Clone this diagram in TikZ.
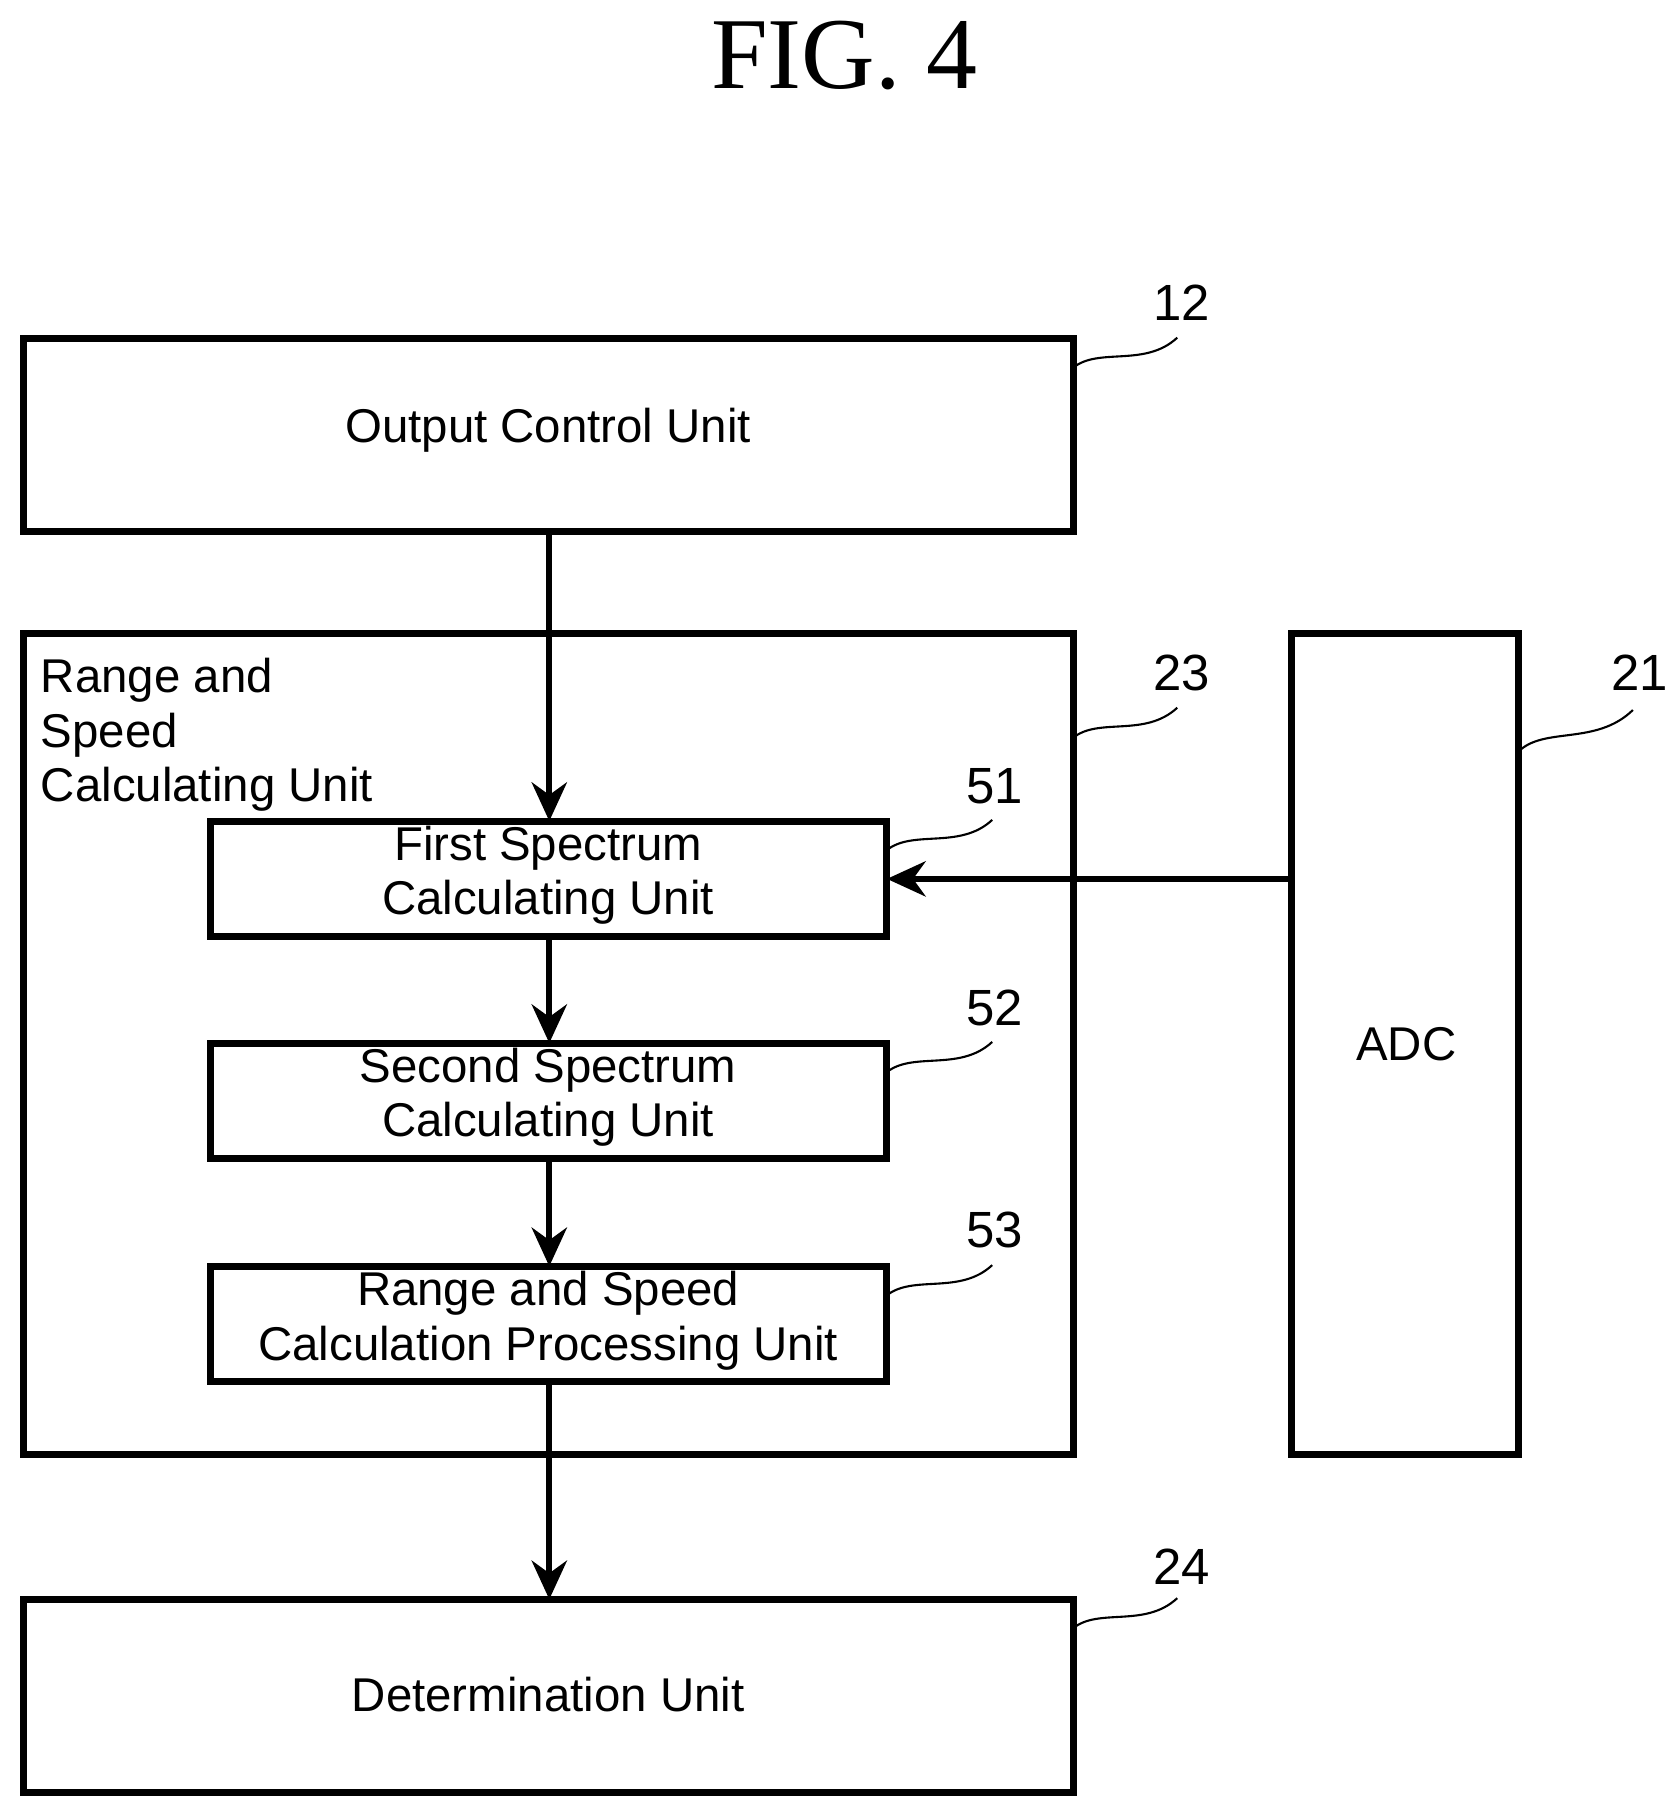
\documentclass[tikz,border=0pt]{standalone}
\usepackage{fontspec}
\setmainfont{Liberation Sans}
\newfontfamily\titlefont{Liberation Serif}
\usetikzlibrary{arrows.meta}
\begin{document}
\begin{tikzpicture}[x=0.02314cm,y=-0.02314cm,
  box/.style={draw,line width=4pt,inner sep=0},
  lbl/.style={font=\fontsize{27}{31}\selectfont},
  num/.style={font=\fontsize{29}{33}\selectfont},
  arr/.style={line width=3.5pt,-{Stealth[length=22pt,width=20pt]}},
  lead/.style={line width=1.2pt}]
\useasboundingbox (0,0) rectangle (1443,1560);
\node[font=\titlefont\fontsize{58}{64}\selectfont] (title) at (730,48) {FIG. 4};
% boxes
\draw[box] (20,293) rectangle (928,460);
\node[lbl] (oc) at (474,372) {Output Control Unit};
\draw[box] (20,548) rectangle (928,1258);
\node[lbl,align=left,anchor=north west] (rs) at (30,564) {Range and\\Speed\\Calculating Unit};
\draw[box] (1117,548) rectangle (1313,1258);
\node[lbl] (adc) at (1216,903) {ADC};
\draw[box] (182,710) rectangle (767,810);
\node[lbl,align=center] (b51) at (474,757) {First Spectrum\\Calculating Unit};
\draw[box] (182,902) rectangle (767,1002);
\node[lbl,align=center] (b52) at (474,949) {Second Spectrum\\Calculating Unit};
\draw[box] (182,1095) rectangle (767,1195);
\node[lbl,align=center] (b53) at (474,1142) {Range and Speed\\Calculation Processing Unit};
\draw[box] (20,1383) rectangle (928,1550);
\node[lbl] (det) at (474,1465) {Determination Unit};
% coordinates
\coordinate (a0) at (475,460); \coordinate (a1) at (475,710);
\coordinate (a2) at (475,810); \coordinate (a3) at (475,902);
\coordinate (a4) at (475,1002); \coordinate (a5) at (475,1095);
\coordinate (a6) at (475,1195); \coordinate (a7) at (475,1383);
\coordinate (c0) at (1117,760); \coordinate (c1) at (767,760);
\draw[arr] (a0) -- (a1);
\draw[arr] (a2) -- (a3);
\draw[arr] (a4) -- (a5);
\draw[arr] (a6) -- (a7);
\draw[arr] (c0) -- (c1);
% reference numerals
\node[num] (n12) at (1022,262) {12};
\node[num] (n23) at (1022,582) {23};
\node[num] (n21) at (1418,582) {21};
\node[num] (n51) at (860,680) {51};
\node[num] (n52) at (860,872) {52};
\node[num] (n53) at (860,1064) {53};
\node[num] (n24) at (1022,1355) {24};
\draw[lead] (928,318) .. controls (950,300) and (990,318) .. (1018,292);
\draw[lead] (928,638) .. controls (950,620) and (990,638) .. (1018,612);
\draw[lead] (1313,650) .. controls (1335,628) and (1380,645) .. (1412,614);
\draw[lead] (767,735) .. controls (790,717) and (830,735) .. (858,709);
\draw[lead] (767,927) .. controls (790,909) and (830,927) .. (858,901);
\draw[lead] (767,1120) .. controls (790,1102) and (830,1120) .. (858,1094);
\draw[lead] (928,1408) .. controls (950,1390) and (990,1408) .. (1018,1382);
\end{tikzpicture}
\end{document}
